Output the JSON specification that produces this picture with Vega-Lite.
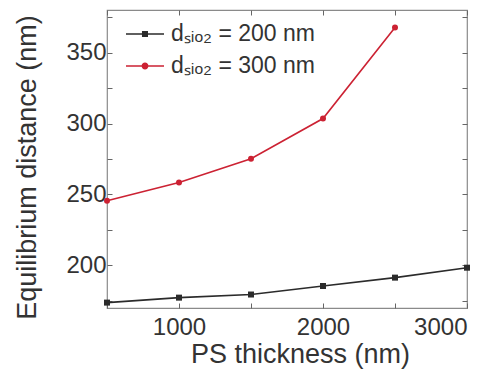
{
  "$schema": "https://vega.github.io/schema/vega-lite/v6.json",
  "width": 360,
  "height": 298,
  "autosize": "none",
  "padding": {"left": 107, "top": 10, "right": 28, "bottom": 68},
  "background": "white",
  "config": {
    "view": {"stroke": "#8a8a8a", "strokeWidth": 1.2},
    "font": "Liberation Sans",
    "axis": {
      "domain": false,
      "grid": false,
      "tickColor": "#666666",
      "tickSize": -5,
      "tickWidth": 1,
      "labelColor": "#333333",
      "labelFont": "Liberation Sans",
      "labelFontSize": 24,
      "titleColor": "#333333",
      "titleFont": "Liberation Sans",
      "titleFontSize": 27,
      "titleFontWeight": "normal"
    }
  },
  "data": {
    "values": [
      {"t": 500, "d": 173.8, "s": "dₛᵢₒ₂ = 200 nm"},
      {"t": 1000, "d": 177.3, "s": "dₛᵢₒ₂ = 200 nm"},
      {"t": 1500, "d": 179.5, "s": "dₛᵢₒ₂ = 200 nm"},
      {"t": 2000, "d": 185.5, "s": "dₛᵢₒ₂ = 200 nm"},
      {"t": 2500, "d": 191.4, "s": "dₛᵢₒ₂ = 200 nm"},
      {"t": 3000, "d": 198.4, "s": "dₛᵢₒ₂ = 200 nm"},
      {"t": 500, "d": 245.6, "s": "dₛᵢₒ₂ = 300 nm"},
      {"t": 1000, "d": 258.4, "s": "dₛᵢₒ₂ = 300 nm"},
      {"t": 1500, "d": 275.2, "s": "dₛᵢₒ₂ = 300 nm"},
      {"t": 2000, "d": 303.5, "s": "dₛᵢₒ₂ = 300 nm"},
      {"t": 2500, "d": 367.6, "s": "dₛᵢₒ₂ = 300 nm"}
    ]
  },
  "layer": [
    {
      "encoding": {
        "x": {
          "field": "t", "type": "quantitative",
          "scale": {"domain": [500, 3000], "nice": false, "zero": false},
          "axis": {
            "orient": "bottom",
            "title": "PS thickness (nm)",
            "titleX": 193,
            "values": [500, 1000, 1500, 2000, 2500, 3000],
            "format": "d",
            "labelExpr": "datum.value % 1000 == 0 ? datum.label : ''",
            "labelPadding": 12,
            "titlePadding": 2
          }
        },
        "y": {
          "field": "d", "type": "quantitative",
          "scale": {"domain": [170, 380], "nice": false, "zero": false},
          "axis": {
            "orient": "left",
            "title": "Equilibrium distance (nm)",
            "titleY": 157,
            "values": [175, 200, 225, 250, 275, 300, 325, 350, 375],
            "labelExpr": "datum.value % 50 == 0 ? datum.label : ''",
            "labelPadding": 6,
            "titlePadding": 24
          }
        },
        "color": {
          "field": "s", "type": "nominal",
          "scale": {"range": ["#2b2b2b", "#cc2233"]},
          "legend": {
            "orient": "none",
            "legendX": 18,
            "legendY": 4,
            "title": null,
            "labelFontSize": 23,
            "labelColor": "#333333",
            "labelFont": "Liberation Sans",
            "symbolSize": 1444,
            "symbolStrokeWidth": 1.5,
            "labelOffset": 6,
            "rowPadding": -1,
            "symbolType": "M-1,0H1M-0.14,0A0.14,0.14 0 1,0 0.14,0A0.14,0.14 0 1,0 -0.14,0Z",
            "encode": {
              "symbols": {
                "update": {
                  "fill": {"scale": "color", "field": "value"},
                  "shape": {"signal": "datum.value == 'dₛᵢₒ₂ = 200 nm' ? 'M-1,0H1M-0.12,-0.12H0.12V0.12H-0.12Z' : 'M-1,0H1M-0.14,0A0.14,0.14 0 1,0 0.14,0A0.14,0.14 0 1,0 -0.14,0Z'"}
                }
              }
            }
          }
        }
      },
      "layer": [
        {"mark": {"type": "line", "strokeWidth": 1.6}},
        {
          "mark": {"type": "point", "filled": true, "opacity": 1},
          "encoding": {
            "shape": {"field": "s", "type": "nominal", "scale": {"range": ["square", "circle"]}, "legend": null},
            "size": {"value": 36}
          }
        }
      ]
    },
    {
      "mark": {"type": "point", "opacity": 0},
      "encoding": {
        "x": {
          "field": "t", "type": "quantitative",
          "axis": {"orient": "top", "title": null, "labels": false, "values": [500, 1000, 1500, 2000, 2500, 3000]}
        },
        "y": {
          "field": "d", "type": "quantitative",
          "axis": {"orient": "right", "title": null, "labels": false, "values": [175, 200, 225, 250, 275, 300, 325, 350, 375]}
        }
      }
    }
  ],
  "resolve": {"axis": {"x": "independent", "y": "independent"}}
}
